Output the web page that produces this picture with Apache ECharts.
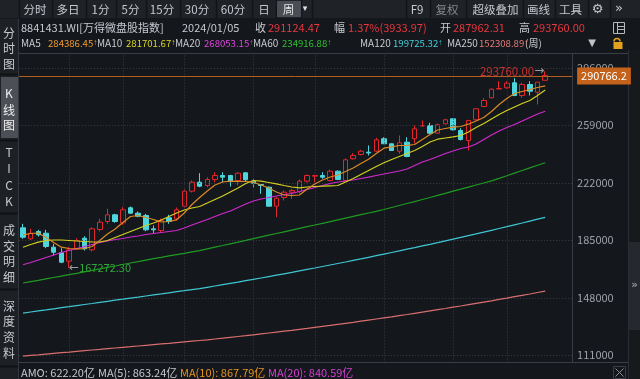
<!DOCTYPE html>
<html><head><meta charset="utf-8">
<script src="https://cdn.jsdelivr.net/npm/echarts@6/dist/echarts.min.js"></script>
<style>html,body{margin:0;padding:0;background:#14171c;}#c{width:640px;height:379px;}</style>
</head><body><div id="c"></div>
<script>
// ---- data (weekly candles, 万得微盘股指数) ----
const dates = ['2022/08/26','2022/09/02','2022/09/09','2022/09/16','2022/09/23','2022/09/30','2022/10/14','2022/10/21','2022/10/28','2022/11/04','2022/11/11','2022/11/18','2022/11/25','2022/12/02','2022/12/09','2022/12/16','2022/12/23','2022/12/30','2023/01/06','2023/01/13','2023/01/20','2023/02/03','2023/02/10','2023/02/17','2023/02/24','2023/03/03','2023/03/10','2023/03/17','2023/03/24','2023/03/31','2023/04/07','2023/04/14','2023/04/21','2023/04/28','2023/05/05','2023/05/12','2023/05/19','2023/05/26','2023/06/02','2023/06/09','2023/06/16','2023/06/21','2023/06/30','2023/07/07','2023/07/14','2023/07/21','2023/07/28','2023/08/04','2023/08/11','2023/08/18','2023/08/25','2023/09/01','2023/09/08','2023/09/15','2023/09/22','2023/09/28','2023/10/13','2023/10/20','2023/10/27','2023/11/03','2023/11/10','2023/11/17','2023/11/24','2023/12/01','2023/12/08','2023/12/15','2023/12/22','2023/12/29','2024/01/05'];
const opens = [193040,185962,190659,189566,180557,176953,171548,179527,186348,178883,191946,197094,201406,196258,205910,202436,200955,192397,191303,199475,198832,206940,216593,222384,220260,224121,226695,226695,223478,228433,223028,220904,219167,206940,212538,215949,216399,223028,226245,226695,223478,229463,223478,237442,240209,241689,242333,250312,247095,242333,248124,250312,258549,258871,253916,259965,263182,255653,249218,262539,271097,276695,282358,283131,286348,278175,285254,280299,287962.31];
const closes = [186992,189566,188536,181007,177339,170904,178883,184868,179527,192397,196644,201406,197094,204623,202436,200505,191753,191753,197738,197094,204623,216593,222384,219810,224121,226695,225602,223028,228176,223928,221741,220260,206940,212088,215949,217043,223028,226695,226695,225602,229463,224121,236798,239565,242333,241174,249669,247095,242783,247738,238922,256747,258871,253916,259321,262539,256104,249862,262088,269618,274958,282230,282680,286091,278175,285254,280943,286734,291124.47];
const lows = [185962,185319,187442,179913,175215,170261,167272.30,178755,178433,177789,190659,195614,196258,194971,202049,199862,190852,189180,190016,195614,197738,206103,215756,219167,219167,222384,222384,219617,220260,223028,219167,214919,206747,199862,210608,211702,215112,222191,222384,224572,222834,223800,222834,236991,239565,239565,241689,246966,242590,240659,238472,247288,258227,253529,253722,259514,255653,249218,242783,262088,270647,276245,282230,282487,277725,276695,278175,272384,287900];
const highs = [195614,192397,191753,191753,182744,179913,180557,186348,187635,193426,198832,205267,202049,206296,206747,203528,202049,194521,199025,201406,206103,217686,223478,228176,225602,228819,228819,227146,228819,228819,224572,220904,219617,212731,217043,218137,224121,227339,227146,228819,230363,229913,237635,241046,243233,246000,250955,251342,247288,252436,251342,258871,262088,260608,260158,263182,263375,257133,262539,270132,276438,282680,287378,287378,289308,286348,287378,286734,293760];
const ma5 = [188536,189372,189694,186798,183581,180557,179720,179527,179610,181007,184868,189051,192268,196451,200312,200955,199668,198381,196773,197094,198188,202564,208034,212538,216721,220582,222513,223028,222950,222834,222384,220582,218652,216078,214147,213825,214147,218008,221226,223800,225730,227017,229269,231522,234417,237185,240852,244263,245164,246000,246120,246644,249861,253079,255975,256940,257777,258227,259707,261766,264018,267879,272384,276245,279462,280749,282036,283323,284386.45];
const ma10 = [180557,182294,183774,184868,185190,185190,184868,184546,184224,183903,183903,184868,186798,188729,190659,192590,194520,196129,198060,200312,202564,204495,205782,206747,208999,211251,213504,216078,218652,221547,223478,223028,222191,221354,220260,219295,218781,219295,219617,219810,220067,220260,222513,224765,227339,229913,232487,234868,236991,238922,240852,242783,245357,248253,250055,250827,251599,252436,254688,257583,260158,263053,265949,268523,270775,273027,274958,278175,281701.67];
const ma20 = [169230,170711,172320,173928,175537,177146,178433,179720,181007,182294,183581,184546,185511,186155,187120,187764,188729,189372,190016,190659,191303,192912,194842,196644,198381,200312,202242,203851,206103,208356,210286,211573,212538,213504,214469,215112,216399,217686,218973,220260,221547,222513,223156,223800,224765,225602,226695,227661,228626,229591,230878,233130,235383,236991,238922,240852,242461,244070,245035,246966,249861,252757,255331,257583,259514,261766,264018,266271,268053.15];
const ma60 = [157519,158420,159257,160158,161058,161959,162860,163761,164726,165627,166593,167558,168459,169424,170389,171290,172255,173221,174057,174958,175795,176631,177532,178369,179463,180557,181650,182744,183838,184932,186091,187185,188279,189372,190466,191560,192654,193748,194842,195936,197030,198188,199282,200376,201470,202564,203658,204816,206103,207390,208677,209900,211251,212538,213890,215241,216593,217880,219231,220582,221869,223221,224829,226502,228240,229913,231586,233259,234916.88];
const ma120 = [138150,138858,139566,140209,140917,141625,142268,142976,143684,144327,145035,145743,146451,147095,147802,148446,149154,149862,150505,151213,151921,152564,153272,153916,154752,155589,156425,157262,158098,158999,159836,160737,161638,162539,163439,164340,165306,166271,167172,168137,169102,170067,171033,172062,173028,174057,175087,176116,177146,178176,179270,180299,181393,182423,183517,184675,185769,186863,188021,189115,190273,191432,192590,193748,194971,196129,197352,198575,199725.32];
const ma250 = [110479,110930,111316,111766,112217,112667,113053,113504,113954,114405,114791,115241,115692,116142,116528,116979,117429,117880,118330,118716,119167,119617,120068,120518,120968,121483,121998,122577,123092,123607,124186,124765,125344,125923,126503,127082,127725,128304,128948,129591,130235,130943,131586,132230,132938,133645,134353,135061,135769,136541,137249,138021,138793,139566,140338,141110,141947,142719,143555,144392,145228,146065,146966,147802,148703,149604,150441,151406,152308.89];
const yTicks = [111000,148000,185000,222000,259000,296000];
const yRange = [106360, 305200];
const monthMarks = ['2022/10/14','2022/12/02','2023/02/03','2023/04/07','2023/06/02','2023/08/04','2023/10/13','2023/12/01'];
const lastPrice = 290766.2;
const emptySlots = ['', ' ', '  '];

// ---- build ----
const FONT = '"Noto Sans CJK SC","Noto Sans",sans-serif';
const cats = dates.concat(emptySlots);
const kData = dates.map((d, i) => [opens[i], closes[i], lows[i], highs[i]]);
let maxIdx = 0, minIdx = 0;
highs.forEach((v, i) => { if (v > highs[maxIdx]) maxIdx = i; });
lows.forEach((v, i) => { if (v < lows[minIdx]) minIdx = i; });

const GRAY = '#c6c9ce', RED = '#e8373f';
function T(x, y, text, fill, size, align, font, rich) {
  const st = { text: text, fill: fill || GRAY, fontSize: size || 11, fontFamily: font || FONT,
      align: align || 'left', verticalAlign: 'middle' };
  if (rich) st.rich = rich;
  return { type: 'text', x: x, y: y, silent: true, z: 100, style: st };
}
function R(x, y, w, h, fill, z) {
  return { type: 'rect', silent: true, z: z || 0, shape: { x: x, y: y, width: w, height: h }, style: { fill: fill } };
}
function L(x1, y1, x2, y2, stroke, w, z) {
  return { type: 'line', silent: true, z: z || 1, shape: { x1: x1, y1: y1, x2: x2, y2: y2 }, style: { stroke: stroke, lineWidth: w || 1 } };
}

const g = [];
// toolbar
g.push(R(0, 0, 640, 18, '#1f2227'));
[19, 52, 86, 116, 146, 180, 216, 252, 276, 301, 312, 406, 430, 466, 523, 555, 588, 610].forEach(x => g.push(L(x + 0.5, 0, x + 0.5, 18, '#121417', 1.5, 1)));
g.push(R(277, 1, 24, 16, '#4a4d54', 1));
[['分时', 35], ['多日', 68], ['1分', 100.5], ['5分', 130.5], ['15分', 162], ['30分', 197], ['60分', 233], ['日', 264], ['周', 288.5]]
  .forEach(a => g.push(T(a[1], 9.5, a[0], a[0] === '周' ? '#e8e8e8' : GRAY, 11.5, 'center')));
g.push(T(305, 9, '▾', '#e0e0e0', 9, 'center', 'DejaVu Sans'));
[['F9', 417, GRAY], ['复权', 447, '#85888d'], ['超级叠加', 495.5, GRAY], ['画线', 538.5, GRAY], ['工具', 570.5, GRAY]]
  .forEach(a => g.push(T(a[1], 9.5, a[0], a[2], 11.5, 'center')));
g.push(T(597.5, 9.5, '⚙', GRAY, 13, 'center', 'DejaVu Sans'));
g.push(T(619, 9, '»', GRAY, 13, 'center', 'DejaVu Sans'));

// header row 2
[['8841431.WI[万得微盘股指数]', 21, GRAY], ['2024/01/05', 182, GRAY], ['收', 255, GRAY], ['291124.47', 268, RED],
 ['幅', 334, GRAY], ['1.37%(3933.97)', 348, RED], ['开', 440, GRAY], ['287962.31', 453, RED], ['高', 519, GRAY], ['293760.00', 533, RED]]
  .forEach(a => g.push(T(a[1], 27.5, a[0], a[2], 11)));
// layout icon
g.push({ type: 'rect', silent: true, z: 2, shape: { x: 613.5, y: 22.5, width: 11, height: 11 }, style: { fill: 'none', stroke: '#b5b8bd', lineWidth: 1 } });
g.push(L(617.5, 22.5, 617.5, 33.5, '#b5b8bd', 1, 2));
g.push(L(617.5, 26.5, 624.5, 26.5, '#b5b8bd', 1, 2));
g.push(L(617.5, 29.5, 624.5, 29.5, '#b5b8bd', 1, 2));

// header row 3 (MA values)
[['MA5', 21], ['MA10', 97], ['MA20', 175], ['MA60', 253], ['MA120', 360], ['MA250', 447], ['(周)', 525]]
  .forEach(a => g.push(T(a[1], 43, a[0], GRAY, 10)));
[['284386.45', 48, '#ee9a2c'], ['281701.67', 126, '#d9d624'], ['268053.15', 204, '#e044e0'], ['234916.88', 282, '#2fbf33'],
 ['199725.32', 393, '#44d0dc'], ['152308.89', 479, '#e57a78']]
  .forEach(a => g.push(T(a[1], 43, '{n|' + a[0] + '}{a|↑}', a[2], 10, 'left', FONT,
    { n: { fill: a[2], fontSize: 9.6, fontFamily: FONT }, a: { fill: a[2], fontSize: 8, fontFamily: 'Liberation Sans' } })));
g.push(T(592, 43, '▼', '#c0c3c8', 10, 'center', 'DejaVu Sans'));
g.push({ type: 'arc', silent: true, z: 2, shape: { cx: 617, cy: 41.5, r: 3, startAngle: Math.PI, endAngle: 2 * Math.PI }, style: { stroke: '#e3a21f', lineWidth: 1.5, fill: 'none' } });
g.push(R(613.5, 42, 9, 7, '#e3a21f', 2));

// left sidebar
g.push(R(0, 19, 18, 360, '#1d2025'));
g.push(R(1, 77, 17, 61, '#4c4f56', 1));
[74, 140, 213, 289, 366].forEach(y => g.push(L(0, y + 0.5, 18, y + 0.5, '#101215', 2, 1)));
[['分', 33], ['时', 48.5], ['图', 64], ['K', 93], ['线', 110], ['图', 125.5], ['T', 152.7], ['I', 168], ['C', 185], ['K', 201],
 ['成', 230], ['交', 246], ['明', 261.7], ['细', 277], ['深', 306], ['度', 321.7], ['资', 337], ['料', 353.3]]
  .forEach(a => g.push(T(9, a[1], a[0], (a[1] > 80 && a[1] < 130) ? '#f0f0f0' : GRAY, 12, 'center')));

// plot frame
g.push(L(18.5, 19, 18.5, 379, '#33363c', 1, 3));
g.push(L(18, 53.5, 628, 53.5, '#3a3d44', 1, 3));
g.push(L(18, 362.5, 628, 362.5, '#3a3d44', 1, 3));
// right strip
g.push(R(628, 50, 12, 329, '#17191d'));
g.push(L(628.5, 50, 628.5, 379, '#2a2d33', 1, 1));
g.push(R(629, 242, 11, 88, '#25282d', 1));
g.push(T(634.5, 285, '»', '#b0b3b8', 11, 'center', 'DejaVu Sans'));
// bottom close icon
g.push({ type: 'rect', silent: true, z: 2, shape: { x: 613.5, y: 366.5, width: 12, height: 12 }, style: { fill: 'none', stroke: '#3a3d44', lineWidth: 1 } });
g.push(L(615.5, 368.5, 623.5, 376.5, '#8a8d92', 1, 3));
g.push(L(623.5, 368.5, 615.5, 376.5, '#8a8d92', 1, 3));

// bottom AMO row
[['AMO: 622.20亿', 21, GRAY], ['MA(5): 863.24亿', 98, GRAY], ['MA(10): 867.79亿', 180, '#e8941f'], ['MA(20): 840.59亿', 268, '#d640d6']]
  .forEach(a => g.push(T(a[1], 372.5, a[0], a[2], 11)));

function maLine(name, data, color) {
  return { name: name, type: 'line', data: data, symbol: 'none', silent: true, z: 5,
    lineStyle: { color: color, width: 1.2 }, itemStyle: { color: color } };
}

const option = {
  backgroundColor: '#14171c',
  animation: false,
  textStyle: { fontFamily: FONT },
  grid: { left: 19.16, right: 640 - 572.1, top: 53.5, bottom: 379 - 362.5 },
  xAxis: { type: 'category', data: cats, boundaryGap: true,
    axisLine: { show: false }, axisTick: { show: false }, axisLabel: { show: false }, splitLine: { show: false } },
  yAxis: { type: 'value', position: 'right', min: yRange[0], max: yRange[1], scale: true,
    splitLine: { show: false }, axisTick: { show: false },
    axisLine: { show: true, lineStyle: { color: '#3a3d44' } },
    axisLabel: { color: '#9ea2a8', fontSize: 11, margin: 5, customValues: yTicks, formatter: v => String(v) } },
  graphic: g,
  series: [
    { name: 'grid', type: 'line', data: cats.map(() => null), silent: true, z: 1, symbol: 'none',
      markLine: { silent: true, symbol: ['none', 'none'], animation: false, label: { show: false },
        lineStyle: { color: '#3a3d43', type: [1, 2], width: 1 },
        data: yTicks.map(v => ({ yAxis: v })).concat(monthMarks.map(d => ({ xAxis: d }))) } },
    { name: 'K', type: 'candlestick', data: kData, barWidth: 5, z: 3,
      itemStyle: { color: 'transparent', color0: '#4fd6dc', borderColor: '#e2262b', borderColor0: '#4fd6dc', borderWidth: 1 },
      markLine: { silent: true, symbol: ['none', 'none'], animation: false,
        lineStyle: { color: '#b35d1e', width: 1, type: 'solid' },
        label: { position: 'end', distance: 5, color: '#ffffff', fontSize: 11, backgroundColor: '#c4621b',
          padding: [3, 4, 2, 4], lineHeight: 12, formatter: p => String(p.value) },
        data: [{ yAxis: lastPrice }] },
      markPoint: { symbol: 'circle', symbolSize: 0, animation: false, silent: true,
        data: [
          { coord: [maxIdx, highs[maxIdx]], value: highs[maxIdx],
            label: { show: true, position: 'left', distance: 1,
              formatter: p => '{v|' + p.value.toFixed(2) + '}{a|→}',
              rich: { v: { color: '#c9302f', fontSize: 11.5, fontFamily: FONT }, a: { color: '#9a9da2', fontSize: 12, fontFamily: 'DejaVu Sans' } } } },
          { coord: [minIdx, lows[minIdx]], value: lows[minIdx],
            label: { show: true, position: 'right', distance: 0,
              formatter: p => '{a|←}{v|' + p.value.toFixed(2) + '}',
              rich: { v: { color: '#33a83e', fontSize: 11, fontFamily: FONT }, a: { color: '#9a9da2', fontSize: 12, fontFamily: 'DejaVu Sans' } } } }
        ] } },
    maLine('MA250', ma250, '#d86e6e'),
    maLine('MA120', ma120, '#3fc7d4'),
    maLine('MA60', ma60, '#1f9a22'),
    maLine('MA20', ma20, '#d02ad0'),
    maLine('MA10', ma10, '#d2d020'),
    maLine('MA5', ma5, '#d98a26')
  ]
};
const chart = echarts.init(document.getElementById('c'), null, { width: 640, height: 379 });
chart.setOption(option);
</script>
</body></html>
